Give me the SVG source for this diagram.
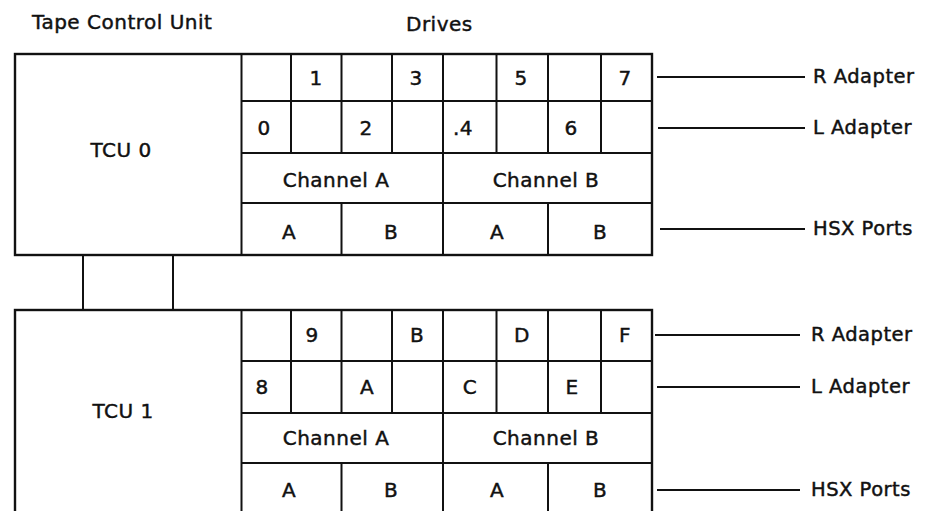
<svg xmlns="http://www.w3.org/2000/svg" width="925" height="511" viewBox="0 0 925 511">
  <style>
    .frame { fill: #fff; stroke: #111; stroke-width: 2.4; }
    .rule { stroke: #111; stroke-width: 2; fill: none; }
    .lead { stroke: #111; stroke-width: 2; fill: none; }
    text { font-family: "DejaVu Sans", "Liberation Sans", sans-serif; font-size: 20px; fill: #111; stroke: #111; stroke-width: 0.45px; letter-spacing: 0.5px; }
    .mid { text-anchor: middle; }
    .side { font-size: 19.5px; }
  </style>

  <rect width="925" height="511" fill="#fff"/>

  <!-- column headings -->
  <g id="headings">
    <text x="32" y="29">Tape Control Unit</text>
    <text x="406" y="31">Drives</text>
  </g>

  <!-- links between the two control units and leader lines to the side labels -->
  <g id="connectors">
    <line class="rule" x1="83" y1="255" x2="83" y2="310"/>
    <line class="rule" x1="173" y1="255" x2="173" y2="310"/>

    <line class="lead" x1="657" y1="77" x2="805" y2="77"/>
    <line class="lead" x1="658" y1="128" x2="805" y2="128"/>
    <line class="lead" x1="660" y1="229" x2="805" y2="229"/>

    <line class="lead" x1="655" y1="335" x2="800" y2="335"/>
    <line class="lead" x1="657" y1="387" x2="800" y2="387"/>
    <line class="lead" x1="657" y1="490" x2="800" y2="490"/>
  </g>

  <!-- TCU 0 -->
  <g id="tcu0">
    <rect class="frame" x="15" y="54" width="637" height="201"/>
    <line class="rule" x1="241.5" y1="54" x2="241.5" y2="255"/>
    <line class="rule" x1="241.5" y1="101" x2="652" y2="101"/>
    <line class="rule" x1="241.5" y1="153" x2="652" y2="153"/>
    <line class="rule" x1="241.5" y1="203" x2="652" y2="203"/>
    <path class="rule" d="M291 54V153M341.5 54V153M392 54V153M443 54V153M496.5 54V153M548 54V153M601 54V153"/>
    <path class="rule" d="M443 153V203"/>
    <path class="rule" d="M341.5 203V255M443 203V255M548 203V255"/>

    <text class="mid" x="121" y="157">TCU 0</text>

    <text class="mid" x="316" y="85">1</text>
    <text class="mid" x="416" y="85">3</text>
    <text class="mid" x="521" y="85">5</text>
    <text class="mid" x="625" y="85">7</text>

    <text class="mid" x="264" y="135">0</text>
    <text class="mid" x="366" y="135">2</text>
    <text class="mid" x="463" y="135">.4</text>
    <text class="mid" x="571" y="135">6</text>

    <text class="mid" x="336" y="187">Channel A</text>
    <text class="mid" x="546" y="187">Channel B</text>

    <text class="mid" x="289" y="239">A</text>
    <text class="mid" x="391" y="239">B</text>
    <text class="mid" x="497" y="239">A</text>
    <text class="mid" x="600" y="239">B</text>
  </g>

  <!-- TCU 1 (continues past the lower edge) -->
  <g id="tcu1">
    <rect class="frame" x="15" y="310" width="637" height="230"/>
    <line class="rule" x1="241.5" y1="310" x2="241.5" y2="540"/>
    <line class="rule" x1="241.5" y1="361" x2="652" y2="361"/>
    <line class="rule" x1="241.5" y1="413" x2="652" y2="413"/>
    <line class="rule" x1="241.5" y1="463" x2="652" y2="463"/>
    <path class="rule" d="M291 310V413M341.5 310V413M392 310V413M443 310V413M496.5 310V413M548 310V413M601 310V413"/>
    <path class="rule" d="M443 413V463"/>
    <path class="rule" d="M341.5 463V540M443 463V540M548 463V540"/>

    <text class="mid" x="123" y="418">TCU 1</text>

    <text class="mid" x="312" y="342">9</text>
    <text class="mid" x="417" y="342">B</text>
    <text class="mid" x="522" y="342">D</text>
    <text class="mid" x="625" y="342">F</text>

    <text class="mid" x="262" y="394">8</text>
    <text class="mid" x="367" y="394">A</text>
    <text class="mid" x="470" y="394">C</text>
    <text class="mid" x="572" y="394">E</text>

    <text class="mid" x="336" y="445">Channel A</text>
    <text class="mid" x="546" y="445">Channel B</text>

    <text class="mid" x="289" y="497">A</text>
    <text class="mid" x="391" y="497">B</text>
    <text class="mid" x="497" y="497">A</text>
    <text class="mid" x="600" y="497">B</text>
  </g>

  <!-- side labels -->
  <g id="labels-tcu0">
    <text class="side" x="813" y="83">R Adapter</text>
    <text class="side" x="813" y="134">L Adapter</text>
    <text class="side" x="813" y="235">HSX Ports</text>
  </g>
  <g id="labels-tcu1">
    <text class="side" x="811" y="341">R Adapter</text>
    <text class="side" x="811" y="393">L Adapter</text>
    <text class="side" x="811" y="496">HSX Ports</text>
  </g>
</svg>
